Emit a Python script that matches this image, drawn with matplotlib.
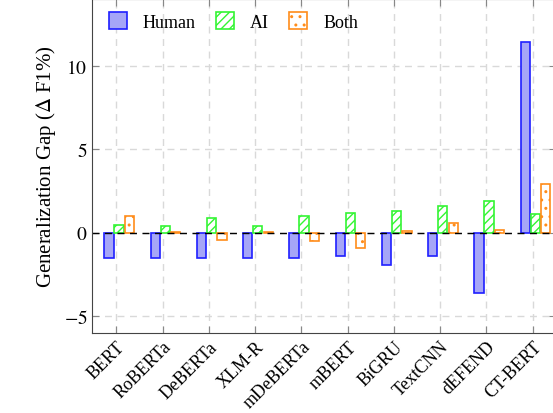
import numpy as np
import matplotlib.pyplot as plt

plt.rcParams['font.family'] = ['Liberation Serif', 'DejaVu Serif']
plt.rcParams['mathtext.fontset'] = 'stix'
plt.rcParams['hatch.linewidth'] = 1.0

models = ["BERT", "RoBERTa", "DeBERTa", "XLM-R", "mDeBERTa",
          "mBERT", "BiGRU", "TextCNN", "dEFEND", "CT-BERT"]
human = [-1.5, -1.5, -1.5, -1.5, -1.5, -1.4, -1.9, -1.4, -3.6, 11.4]
ai = [0.5, 0.4, 0.9, 0.4, 1.0, 1.2, 1.3, 1.6, 1.9, 1.1]
both = [1.0, 0.05, -0.4, 0.05, -0.5, -0.9, 0.1, 0.6, 0.2, 2.9]

x = np.arange(len(models))
w = 0.2

fig = plt.figure(figsize=(5.53, 4.14), dpi=100)
ax = fig.add_axes([0.167, 0.193, 0.838, 0.807])

ax.set_axisbelow(True)
ax.grid(True, color='#d9d9d9', linestyle=(0, (5, 4)), linewidth=1.0)

ax.bar(x - 0.16, human, w, color='#a6a6f7', edgecolor='#1f1fff', linewidth=1.2, label='Human')
ax.bar(x + 0.055, ai, w, color='white', edgecolor='#33f533', hatch='////', linewidth=1.2, label='AI')
ax.bar(x + 0.285, both, w, color='white', edgecolor='#ff8c1a', hatch='..', linewidth=1.2, label='Both')

ax.axhline(0, color='black', linestyle=(0, (5, 4)), linewidth=1.0, zorder=1)

ax.set_xlim(-0.52, 9.5)
ax.set_ylim(-6, 14)
ax.set_yticks([-5, 0, 5, 10])
ax.set_yticklabels(['$-5$', '$0$', '$5$', '$10$'], fontsize=14)
ax.set_xticks(x)
ax.set_xticklabels(models, rotation=45, ha='right', rotation_mode='anchor', fontsize=13)
ax.tick_params(direction='in', top=True, right=True, length=5, color='#888888')
ax.set_ylabel('Generalization Gap ($\\Delta$ F1%)', fontsize=15)

for s in ax.spines.values():
    s.set_color('#444444')

ax.legend(loc='upper left', ncol=3, frameon=False, fontsize=13,
          handlelength=1.0, handleheight=1.1, columnspacing=1.1,
          handletextpad=0.9, bbox_to_anchor=(0.0, 1.01))

fig.savefig('out.png', dpi=100)
